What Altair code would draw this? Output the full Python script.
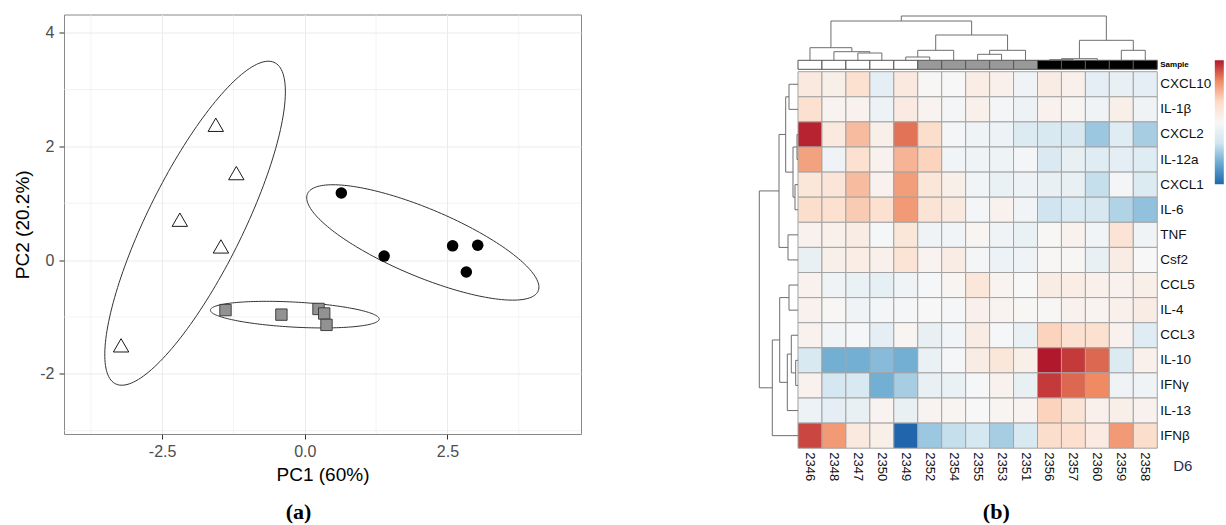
import altair as alt
import numpy as np
import pandas as pd

# ---------------- Panel (a): PCA scores ----------------
tri_x = [-1.56, -1.20, -2.19, -1.47, -3.22]
tri_y = [2.38, 1.53, 0.71, 0.24, -1.50]
sq_x = [-1.39, -0.41, 0.24, 0.34, 0.38]
sq_y = [-0.88, -0.96, -0.86, -0.94, -1.14]
ci_x = [0.64, 1.39, 2.59, 3.03, 2.83]
ci_y = [1.18, 0.07, 0.25, 0.26, -0.21]

# confidence ellipses: centre, major and minor semi-axis vectors (data units)
ell_names = ["tri", "sq", "ci"]
ell_cx = [-1.923, -0.175, 2.068]
ell_cy = [0.648, -0.960, 0.310]
ell_major = [(1.383, 2.831), (1.479, -0.080), (2.018, -0.862)]
ell_minor = [(-0.769, 0.330), (0.0135, 0.220), (0.260, 0.536)]

x_major = [-2.5, 0.0, 2.5]
x_minor = [-3.75, -1.25, 1.25, 3.75]
y_major = [-2, 0, 2, 4]
y_minor = [-3, -1, 1, 3]
x_domain = [-4.22, 4.84]
y_domain = [-3.06, 4.32]

# ---------------- Panel (b): heatmap ----------------
col_ids = ["2346", "2348", "2347", "2350", "2349", "2352", "2354", "2355",
           "2353", "2351", "2356", "2357", "2360", "2359", "2358"]
sample_group = ["g1"] * 5 + ["g2"] * 5 + ["g3"] * 5
row_ids = ["CXCL10", "IL-1β", "CXCL2", "IL-12a", "CXCL1", "IL-6", "TNF", "Csf2",
           "CCL5", "IL-4", "CCL3", "IL-10", "IFNγ", "IL-13", "IFNβ"]

CXCL10 = [0.5, 0.3, 0.8, -0.5, 0.5, 0.05, 0.0, 0.35, 0.25, -0.2, 0.4, 0.25, -0.5, -0.4, -0.5]
IL1b = [0.8, 0.15, 0.2, -0.3, 0.45, 0.15, -0.1, 0.25, -0.1, -0.3, 0.2, 0.1, -0.2, 0.3, -0.2]
CXCL2 = [2.9, 0.5, 1.4, 0.3, 2.2, 0.9, -0.1, -0.25, -0.3, -0.7, -0.8, -0.85, -1.5, -0.6, -1.4]
IL12a = [1.7, -0.2, 0.8, 0.2, 1.5, 1.1, -0.15, -0.2, -0.25, -0.1, -0.75, -0.4, -0.6, -0.5, -0.6]
CXCL1 = [0.6, 0.65, 1.4, 0.2, 1.75, 0.6, 0.3, -0.15, -0.35, -0.3, -0.4, -0.4, -1.1, -0.1, -0.7]
IL6 = [0.9, 0.8, 1.2, 0.8, 1.8, 0.7, 0.5, -0.1, 0.2, -0.15, -1.0, -0.75, -0.85, -1.3, -1.6]
TNF = [0.2, 0.25, 0.4, -0.05, 0.6, -0.2, -0.15, 0.1, -0.2, -0.35, 0.05, 0.2, -0.15, 0.7, -0.2]
Csf2 = [-0.4, 0.3, 0.35, 0.25, 0.7, 0.15, 0.4, -0.1, -0.3, -0.2, 0.05, 0.05, -0.4, 0.4, 0.0]
CCL5 = [0.2, -0.2, -0.35, -0.45, -0.2, -0.05, 0.1, 0.6, 0.15, 0.0, 0.4, 0.35, 0.25, 0.2, 0.3]
IL4 = [0.2, 0.05, -0.2, -0.1, -0.05, 0.0, -0.05, 0.25, 0.15, 0.05, 0.05, 0.2, 0.15, 0.25, 0.4]
CCL3 = [0.2, -0.15, -0.05, -0.5, 0.1, -0.4, -0.15, 0.4, -0.05, -0.35, 1.1, 0.8, 0.8, 0.2, -0.6]
IL10 = [-0.8, -1.9, -1.9, -1.7, -1.9, -0.35, -0.05, 0.4, 0.6, 0.3, 3.0, 2.7, 2.3, -0.7, 0.25]
IFNg = [0.2, -0.9, -0.8, -1.9, -1.4, -0.4, -0.35, -0.05, 0.2, -0.4, 2.7, 2.3, 2.0, -0.2, -0.2]
IL13 = [-0.3, -0.5, -0.4, 0.15, -0.4, 0.15, 0.1, 0.0, 0.1, 0.15, 1.1, 0.7, 0.25, 0.3, 0.2]
IFNb = [2.6, 1.8, 0.5, 0.3, -3.0, -1.5, -1.1, -0.9, -1.4, -0.8, 0.9, 0.85, 0.45, 1.8, 0.9]
row_values = [CXCL10, IL1b, CXCL2, IL12a, CXCL1, IL6, TNF, Csf2,
              CCL5, IL4, CCL3, IL10, IFNg, IL13, IFNb]

# hierarchical clustering merges: (child a, child b, height); ints refer to earlier merges
col_merges = [("2347", "2350", 7.3), ("2348", 0, 8.6), ("2346", 1, 12.6),
              ("2349", "2352", 3.3), (3, "2354", 10.0),
              ("2355", "2353", 6.0), (5, "2351", 10.0),
              (4, 6, 25.3), (2, 7, 39.3),
              ("2356", "2357", 0.6), (9, "2360", 1.6), ("2359", "2358", 10.0),
              (10, 11, 20.0), (8, 12, 44.3)]
row_merges = [("CXCL10", "IL-1β", 9.0), ("CXCL2", "IL-12a", 1.0), ("CXCL1", "IL-6", 3.0),
              (1, 2, 5.0), (0, 3, 12.3), ("TNF", "Csf2", 10.0), (4, 5, 19.0),
              ("CCL5", "IL-4", 9.0), ("IL-10", "IFNγ", 2.3), ("CCL3", 8, 6.7),
              (9, "IL-13", 10.7), (7, 10, 18.3), (11, "IFNβ", 25.7), (6, 12, 38.7)]

heat_domain = [-3, -2, -1, 0, 1, 2, 3]
heat_colors = ["#2166AC", "#67A9CF", "#D1E5F0", "#F7F7F7", "#FDDBC7", "#EF8A62", "#B2182B"]

FONT = "Liberation Sans"

# ================= build panel (a) =================
pts = pd.concat([
    pd.DataFrame({"x": tri_x, "y": tri_y, "g": "tri"}),
    pd.DataFrame({"x": sq_x, "y": sq_y, "g": "sq"}),
    pd.DataFrame({"x": ci_x, "y": ci_y, "g": "ci"}),
])
t = np.linspace(0, 2 * np.pi, 181)
ell_rows = []
for n, cx, cy, M, m in zip(ell_names, ell_cx, ell_cy, ell_major, ell_minor):
    for i, tt in enumerate(t):
        ell_rows.append({"g": n, "i": i,
                         "x": cx + np.cos(tt) * M[0] + np.sin(tt) * m[0],
                         "y": cy + np.cos(tt) * M[1] + np.sin(tt) * m[1]})
ell_df = pd.DataFrame(ell_rows)

xs = alt.Scale(domain=x_domain, nice=False, zero=False)
ys = alt.Scale(domain=y_domain, nice=False, zero=False)
common_axis = dict(grid=True, gridColor="#EBEBEB", gridWidth=1, domain=False,
                   tickColor="#333333", tickSize=5, labelColor="#4D4D4D",
                   labelFontSize=16, labelFont=FONT, titleFont=FONT, titleFontSize=19,
                   titleFontWeight="normal", titleColor="#000000")
xax = alt.Axis(values=x_major, title="PC1 (60%)",
               labelExpr="replace(format(datum.value, '.1f'), '\u2212', '-')",
               labelPadding=4, titlePadding=6, **common_axis)
yax = alt.Axis(values=y_major, title="PC2 (20.2%)",
               labelExpr="replace(format(datum.value, 'd'), '\u2212', '-')",
               labelPadding=5, titlePadding=7, **common_axis)
X = alt.X("x:Q", scale=xs, axis=xax)
Y = alt.Y("y:Q", scale=ys, axis=yax)

minor_v = alt.Chart(pd.DataFrame({"x": x_minor})).mark_rule(
    color="#EBEBEB", strokeWidth=0.6).encode(x=X)
minor_h = alt.Chart(pd.DataFrame({"y": y_minor})).mark_rule(
    color="#EBEBEB", strokeWidth=0.6).encode(y=Y)
ellipses = alt.Chart(ell_df).mark_line(color="#333333", strokeWidth=1).encode(
    x=X, y=Y, detail="g:N", order="i:Q")
tri = alt.Chart(pts[pts.g == "tri"]).mark_point(
    shape="triangle-up", size=237, filled=True, fill="#FFFFFF", stroke="#000000",
    strokeWidth=0.9, opacity=1).encode(x=X, y=Y)
sq = alt.Chart(pts[pts.g == "sq"]).mark_square(
    size=130, fill="#929292", stroke="#333333", strokeWidth=0.9, opacity=1).encode(x=X, y=Y)
ci = alt.Chart(pts[pts.g == "ci"]).mark_circle(
    size=133, color="#000000", opacity=1).encode(x=X, y=Y)

left = alt.layer(minor_v, minor_h, ellipses, tri, sq, ci).properties(
    width=517, height=419.5,
    view=alt.ViewBackground(stroke="#888888", strokeWidth=1),
    title=alt.TitleParams("(a)", orient="bottom", anchor="middle", frame="group", dx=-24,
                          font="Liberation Serif", fontSize=22, fontWeight="bold",
                          color="#000000", offset=18))

# ================= build panel (b) =================
CW, RH = 23.95, 25.1            # px per column / row unit
bar_gap, bar_h = 2.4 / RH, 9.0 / RH

cells = []
for r, (gene, vals) in enumerate(zip(row_ids, row_values)):
    for c, (cid, v) in enumerate(zip(col_ids, vals)):
        cells.append({"x": c, "x2": c + 1, "y": r, "y2": r + 1, "v": v, "gene": gene, "sample": cid})
cells = pd.DataFrame(cells)

bar = pd.DataFrame({"x": range(15), "x2": [i + 1 for i in range(15)],
                    "y": [-bar_gap - bar_h] * 15, "y2": [-bar_gap] * 15, "grp": sample_group})


def dendro(merges, pos):
    nodes, segs = [], []

    def get(ch):
        return nodes[ch] if isinstance(ch, int) else (pos[ch], 0.0)
    for a, b, h in merges:
        pa, ha = get(a)
        pb, hb = get(b)
        segs += [(pa, ha, pa, h), (pb, hb, pb, h), (pa, h, pb, h)]
        nodes.append(((pa + pb) / 2, h))
    return segs


col_pos = {c: i + 0.5 for i, c in enumerate(col_ids)}
row_pos = {r: i + 0.5 for i, r in enumerate(row_ids)}
cseg = dendro(col_merges, col_pos)
col_tree = pd.DataFrame([{"x": p1, "y": -bar_gap - bar_h - h1 / RH,
                          "x2": p2, "y2": -bar_gap - bar_h - h2 / RH} for p1, h1, p2, h2 in cseg])
rseg = dendro(row_merges, row_pos)
row_tree = pd.DataFrame([{"y": p1, "x": -h1 / CW, "y2": p2, "x2": -h2 / CW} for p1, h1, p2, h2 in rseg])

RW, RHt = 460, 476.5
hx = alt.Scale(domain=[-40.7 / CW, -40.7 / CW + RW / CW], nice=False, zero=False)
hy = alt.Scale(domain=[-57.2 / RH, -57.2 / RH + RHt / RH], nice=False, zero=False, reverse=True)
HX = alt.X("x:Q", scale=hx, axis=None)
HX2 = alt.X2("x2:Q")
HY = alt.Y("y:Q", scale=hy, axis=None)
HY2 = alt.Y2("y2:Q")

heat = alt.Chart(cells).mark_rect(stroke="#A3A3A3", strokeWidth=1).encode(
    x=HX, x2=HX2, y=HY, y2=HY2,
    color=alt.Color("v:Q", scale=alt.Scale(domain=heat_domain, range=heat_colors, interpolate="rgb"),
                    legend=alt.Legend(orient="none", legendX=1150.8, legendY=45.8, direction="vertical",
                                      gradientLength=124, gradientThickness=9, title=None,
                                      labelExpr="''", labelOffset=0, labelFontSize=1,
                                      tickCount=0, gradientStrokeWidth=0, padding=0)))
annot = alt.Chart(bar).mark_rect(stroke="#555555", strokeWidth=1).encode(
    x=HX, x2=HX2, y=HY, y2=HY2,
    fill=alt.Fill("grp:N", scale=alt.Scale(domain=["g1", "g2", "g3"],
                                           range=["#FFFFFF", "#999999", "#000000"]), legend=None))
ctree = alt.Chart(col_tree).mark_rule(color="#6E6E6E", strokeWidth=1).encode(x=HX, x2=HX2, y=HY, y2=HY2)
rtree = alt.Chart(row_tree).mark_rule(color="#6E6E6E", strokeWidth=1).encode(x=HX, x2=HX2, y=HY, y2=HY2)

row_lab = alt.Chart(pd.DataFrame({"lab": row_ids, "x": [15] * 15, "y": [i + 0.5 for i in range(15)]})).mark_text(
    align="left", baseline="middle", dx=3, font=FONT, fontSize=13.5, color="#111111").encode(
    x=HX, y=HY, text="lab:N")
col_lab = alt.Chart(pd.DataFrame({"lab": col_ids, "x": [i + 0.5 for i in range(15)], "y": [15] * 15})).mark_text(
    align="left", baseline="middle", angle=90, dx=4, font=FONT, fontSize=13, color="#111111").encode(
    x=HX, y=HY, text="lab:N")
sample_lab = alt.Chart(pd.DataFrame({"lab": ["Sample"], "x": [15], "y": [-bar_gap - bar_h / 2]})).mark_text(
    align="left", baseline="middle", dx=3, font=FONT, fontSize=8, fontWeight="bold", color="#000000").encode(
    x=HX, y=HY, text="lab:N")
d6_lab = alt.Chart(pd.DataFrame({"lab": ["D6"], "x": [15], "y": [15]})).mark_text(
    align="left", baseline="middle", dx=16, dy=18, font=FONT, fontSize=15, color="#1F2D55").encode(
    x=HX, y=HY, text="lab:N")

right = alt.layer(heat, annot, ctree, rtree, row_lab, col_lab, sample_lab, d6_lab).properties(
    width=RW, height=RHt,
    view=alt.ViewBackground(stroke=None),
    title=alt.TitleParams("(b)", orient="bottom", anchor="middle", frame="group", dx=9,
                          font="Liberation Serif", fontSize=22, fontWeight="bold",
                          color="#000000", offset=11))

chart = alt.hconcat(left, right, spacing=175.3).properties(
    padding={"left": 13, "top": 13.5, "right": 0, "bottom": 0},
    background="#FFFFFF",
).configure_view(stroke=None)

chart.save("out.html", embed_options={"renderer": "svg", "actions": False})
